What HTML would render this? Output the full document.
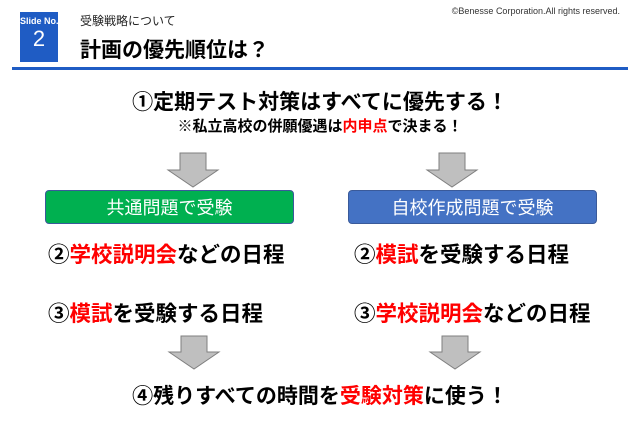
<!DOCTYPE html>
<html><head><meta charset="utf-8"><style>
body{margin:0;width:640px;height:430px;background:#fff;position:relative;overflow:hidden;font-family:"Liberation Sans","Noto Sans CJK JP",sans-serif;}
.a{position:absolute;white-space:nowrap}
.b{font-weight:bold;color:#000}
.r{color:#ff0000}
.box{position:absolute;height:34px;border-radius:4px;color:#fff;font-size:18px;text-align:center;line-height:34px;border:1px solid #3a5a9a;box-sizing:border-box}
</style></head><body>
<div class="a" style="left:20px;top:12px;width:38px;height:50px;background:#1f5cc4;color:#fff;text-align:center">
<div style="font-size:9px;font-weight:bold;margin-top:4px">Slide No.</div>
<div style="font-size:22px;line-height:26px">2</div></div>
<div class="a" style="left:80px;top:12px;font-size:12px;color:#222">受験戦略について</div>
<div class="a b" style="left:80px;top:34px;font-size:21px">計画の優先順位は？</div>
<div class="a" style="right:20px;top:6px;font-size:9px;color:#333">©Benesse Corporation.All rights reserved.</div>
<div class="a" style="left:12px;top:67px;width:616px;height:3px;background:#1f5cc4"></div>
<div class="a b" style="left:0;width:640px;text-align:center;top:86px;font-size:21px">①定期テスト対策はすべてに優先する！</div>
<div class="a b" style="left:0;width:640px;text-align:center;top:115px;font-size:15px">※私立高校の併願優遇は<span class="r">内申点</span>で決まる！</div>
<svg class="a" style="left:0;top:0" width="640" height="430">
<g fill="#bfbfbf" stroke="#7f7f7f" stroke-width="1">
<polygon points="180,153 206,153 206,170 218,170 193,187 168,170 180,170"/>
<polygon points="439,153 465,153 465,170 477,170 452,187 427,170 439,170"/>
<polygon points="181,336 207,336 207,352 219,352 194,369 169,352 181,352"/>
<polygon points="442,336 468,336 468,352 480,352 455,369 430,352 442,352"/>
</g></svg>
<div class="box" style="left:45px;top:190px;width:249px;background:#00b050">共通問題で受験</div>
<div class="box" style="left:348px;top:190px;width:249px;background:#4472c4">自校作成問題で受験</div>
<div class="a b" style="left:48px;top:238px;font-size:21.5px">②<span class="r">学校説明会</span>などの日程</div>
<div class="a b" style="left:354px;top:238px;font-size:21.5px">②<span class="r">模試</span>を受験する日程</div>
<div class="a b" style="left:48px;top:297px;font-size:21.5px">③<span class="r">模試</span>を受験する日程</div>
<div class="a b" style="left:354px;top:297px;font-size:21.5px">③<span class="r">学校説明会</span>などの日程</div>
<div class="a b" style="left:0;width:640px;text-align:center;top:380px;font-size:21px">④残りすべての時間を<span class="r">受験対策</span>に使う！</div>
</body></html>
